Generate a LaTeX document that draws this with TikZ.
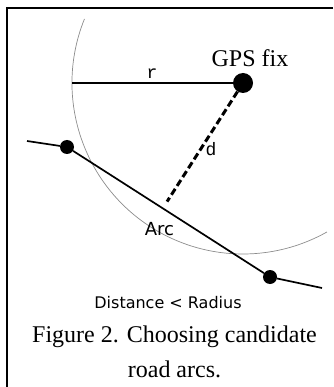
\documentclass[tikz,border=0pt]{standalone}
\usepackage{fontspec}
\setmainfont{Liberation Serif}
\newfontfamily\arcfont{DejaVu Sans}
\newfontfamily\varfont{Liberation Mono}
\usetikzlibrary{calc}

\begin{document}
\begin{tikzpicture}[x=1pt,y=-1pt,
        dot/.style={circle,fill=black,inner sep=0pt,minimum size=14pt},
        fixdot/.style={circle,fill=black,inner sep=0pt,minimum size=20pt},
        road/.style={line width=1.7pt},
        distline/.style={line width=3pt,dash pattern=on 7pt off 3.5pt,shorten >=8pt},
        var/.style={font=\varfont\fontsize{18}{18}\selectfont,anchor=base,inner sep=0pt},
        sans/.style={font=\arcfont\fontsize{#1}{#1}\selectfont,anchor=base,inner sep=0pt}]
    \useasboundingbox (0,0) rectangle (333,387);
    \draw[line width=2pt] (333,8.5) -- (7,8.5) -- (7,387);
    % GPS fix and search circle
    \node[fixdot] (gps) at (243,83) {};
    \node[font=\fontsize{24}{24}\selectfont,anchor=base,inner sep=0pt] (fixlbl) at (250,67) {GPS fix};
    \draw[black!45,line width=0.7pt] (gps.center) ++(202:171) arc[start angle=202,end angle=60.6,radius=171];
    \coordinate (rend) at (72,83);
    \draw[road] (rend) -- (gps);
    \node[var] (rlbl) at (152,78.5) {r};
    % road arc
    \coordinate (roadin) at (27,141);
    \coordinate (roadout) at (322,288);
    \node[dot] (p1) at (67,147) {};
    \node[dot] (p2) at (270,277) {};
    \draw[road] (roadin) -- (p1) -- (p2) -- (roadout);
    \draw[distline] (gps) -- ($(p1)!(gps)!(p2)$);
    \node[var] (dlbl) at (211,156) {d};
    \node[sans=18] (arclbl) at (159.5,235) {Arc};
    \node[sans=16] (rule) at (168,308) {Distance < Radius};
    \node[font=\fontsize{24}{35}\selectfont,align=center,anchor=base,inner sep=0pt] (caption) at (174.5,377)
        {Figure 2. Choosing candidate\\road arcs.};
\end{tikzpicture}
\end{document}
